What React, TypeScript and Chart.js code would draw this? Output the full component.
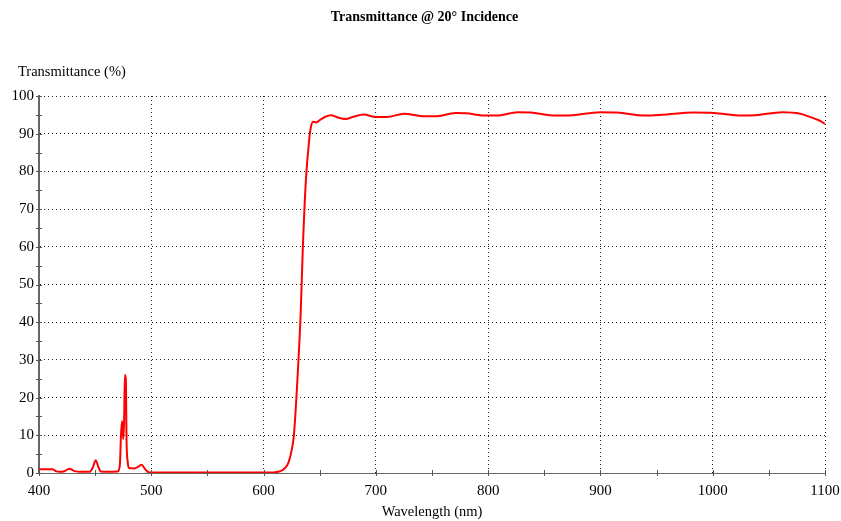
import { useEffect, useRef } from "react";
import { Chart, registerables } from "chart.js";

Chart.register(...registerables);

const chartTitle = "Transmittance @ 20° Incidence";
const yAxisLabel = "Transmittance (%)";
const xAxisLabel = "Wavelength (nm)";

const xTicks = [400, 500, 600, 700, 800, 900, 1000, 1100];
const yTicks = [0, 10, 20, 30, 40, 50, 60, 70, 80, 90, 100];
const xMinorTicks = [450, 550, 650, 750, 850, 950, 1050];
const yMinorTicks = [5, 15, 25, 35, 45, 55, 65, 75, 85, 95];

const wavelengths = [
  400, 405, 412, 415, 418, 422, 427, 432, 436, 445, 448, 450.5, 453, 455, 462,
  470, 472, 473, 474, 475, 475.8, 476.5, 477.3, 478, 479, 480, 485, 488, 491.5,
  494, 497, 500, 550, 600, 610, 614, 618, 622, 625, 627, 630, 633, 635, 637.7,
  640.6, 642, 644, 647, 650, 655, 660, 666, 673, 680, 689, 700, 710, 725, 743,
  753, 771, 780, 799, 811, 826, 838, 860, 875, 900, 915, 940, 955, 983, 1001,
  1026, 1038, 1062, 1078, 1087, 1095, 1100,
];

const transmittance = [
  1.0, 1.0, 1.0, 0.5, 0.3, 0.4, 1.1, 0.5, 0.3, 0.3, 1.5, 3.4, 1.5, 0.4, 0.3,
  0.4, 2.0, 10, 13.8, 9, 14, 26, 25, 8, 3, 1.3, 1.2, 1.6, 2.2,
  1.2, 0.3, 0.1, 0.1, 0.1, 0.2, 0.4, 1.0, 2.6, 6, 10, 24, 42, 60, 77.7,
  88.3, 91.5, 93.2, 93.0, 93.6, 94.5, 94.9, 94.3, 93.9, 94.5, 95.1, 94.4, 94.4, 95.3, 94.6,
  94.6, 95.5, 95.4, 94.8, 94.9, 95.7, 95.6, 94.8, 94.9, 95.7, 95.6, 94.8, 95.0, 95.6, 95.5,
  94.8, 94.9, 95.7, 95.3, 94.4, 93.5, 92.6,
];

const FONT = "'Liberation Serif', 'Times New Roman', serif";

const decorPlugin = {
  id: "decor",
  afterDraw(chart: any) {
    const { ctx, chartArea, scales } = chart;
    const xs = scales.x;
    const ys = scales.y;
    ctx.save();
    ctx.strokeStyle = "#555";
    ctx.lineWidth = 1;
    ctx.beginPath();
    [...yTicks, ...yMinorTicks].forEach((v) => {
      const py = Math.round(ys.getPixelForValue(v)) + 0.5;
      ctx.moveTo(chartArea.left - 3, py);
      ctx.lineTo(chartArea.left + 3, py);
    });
    [...xTicks, ...xMinorTicks].forEach((v) => {
      const px = Math.round(xs.getPixelForValue(v)) + 0.5;
      ctx.moveTo(px, chartArea.bottom - 3);
      ctx.lineTo(px, chartArea.bottom + 3);
    });
    ctx.stroke();

    ctx.fillStyle = "#000";
    ctx.textBaseline = "middle";
    ctx.font = `bold 14px ${FONT}`;
    ctx.textAlign = "center";
    ctx.fillText(chartTitle, chart.width / 2 + 4, 17);
    ctx.font = `14.5px ${FONT}`;
    ctx.textAlign = "left";
    ctx.fillText(yAxisLabel, 18, 72);
    ctx.restore();
  },
};

export default function App() {
  const ref = useRef<HTMLCanvasElement | null>(null);

  useEffect(() => {
    if (!ref.current) return;
    const points = wavelengths.map((w, i) => ({ x: w, y: transmittance[i] }));
    const chart = new Chart(ref.current, {
      type: "line",
      data: {
        datasets: [
          {
            data: points,
            borderColor: "#ff0000",
            borderWidth: 2,
            pointRadius: 0,
            cubicInterpolationMode: "monotone",
            fill: false,
          },
        ],
      },
      options: {
        animation: false,
        responsive: false,
        events: [],
        layout: { padding: { top: 96, right: 16, bottom: 0, left: 0 } },
        plugins: {
          legend: { display: false },
          tooltip: { enabled: false },
          title: { display: false },
        },
        scales: {
          x: {
            type: "linear",
            min: 400,
            max: 1100,
            afterBuildTicks: (s: any) => {
              s.ticks = xTicks.map((v) => ({ value: v }));
            },
            afterFit: (s: any) => {
              s.height = 48;
              s.paddingLeft = 0;
              s.paddingRight = 0;
            },
            grid: {
              color: "#222",
              lineWidth: 1,
              drawTicks: false,
            } as any,
            border: { color: "#666", width: 1, dash: [1, 3] } as any,
            ticks: {
              color: "#000",
              font: { family: FONT, size: 15 },
              padding: 9,
              maxRotation: 0,
              autoSkip: false,
              callback: (v: any) => String(v),
            },
            title: {
              display: true,
              text: xAxisLabel,
              color: "#000",
              font: { family: FONT, size: 14.5 },
              padding: { top: 0, bottom: 0 },
            },
          },
          y: {
            type: "linear",
            min: 0,
            max: 100,
            afterBuildTicks: (s: any) => {
              s.ticks = yTicks.map((v) => ({ value: v }));
            },
            afterFit: (s: any) => {
              s.width = 39;
              s.paddingTop = 0;
              s.paddingBottom = 0;
            },
            grid: {
              color: "#222",
              lineWidth: 1,
              drawTicks: false,
            } as any,
            border: { color: "#666", width: 2, dash: [1, 3] } as any,
            ticks: {
              color: "#000",
              font: { family: FONT, size: 15 },
              padding: 5,
              autoSkip: false,
              callback: (v: any) => String(v),
            },
          },
        },
      } as any,
      plugins: [decorPlugin],
    });
    return () => chart.destroy();
  }, []);

  return (
    <canvas
      ref={ref}
      width={841}
      height={521}
      style={{ position: "absolute", left: 0, top: 0, display: "block" }}
    />
  );
}
